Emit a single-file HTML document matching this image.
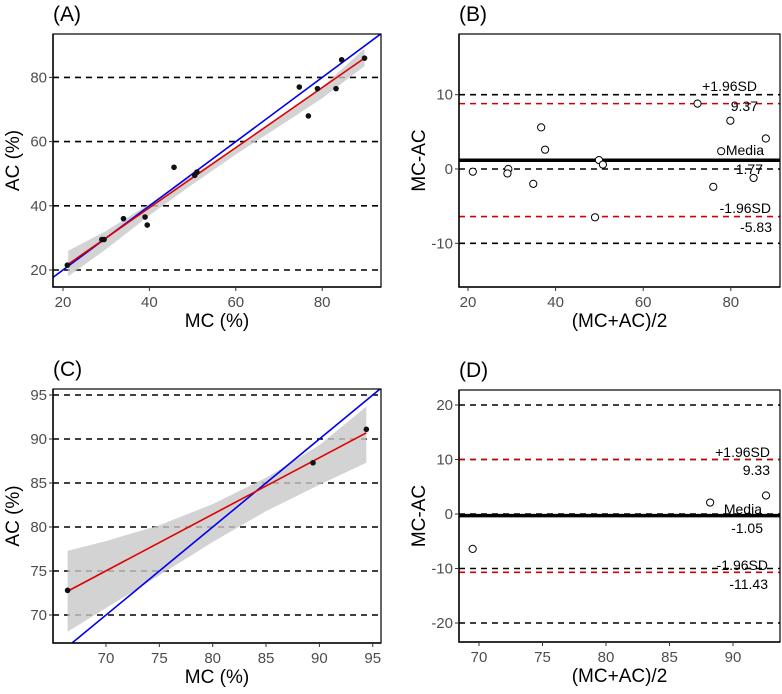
<!DOCTYPE html>
<html><head><meta charset="utf-8"><style>
html,body{margin:0;background:#fff;overflow:hidden;width:782px;height:694px;}
svg{display:block;font-family:"Liberation Sans",Arial,sans-serif;}
.tick{font-size:15px;fill:#4d4d4d;}
.ttl{font-size:19px;fill:#000;}
.pl{font-size:21px;fill:#000;}
.ann{font-size:14px;fill:#000;}
</style></head><body>
<svg id="c" width="782" height="694" viewBox="0 0 782 694"></svg>
<script>
// Panel A data
const aMC=[21,29,29.5,34,39,39.5,45.7,50.5,51,74.7,76.8,78.9,83.2,84.5,89.8];
const aAC=[21.5,29.5,29.5,36,36.5,34,52,49.5,50.5,77,68,76.5,76.5,85.5,86];
const aFit=[[21.2,21.8],[89.8,86]];
const aBandX=[21.2,30,40,50,60,70,80,89.8];
const aBandHi=[26,32.2,40.6,49.5,58.4,67.5,77,89];
const aBandLo=[18,26.5,37,46.7,56,64.7,73.5,83.5];
// Panel B data
const bMean=[21.1,29.2,29.0,34.9,36.7,37.6,49.0,49.9,50.8,72.4,76.0,77.8,79.9,85.2,88.0];
const bDiff=[-0.36,0,-0.6,-2.0,5.6,2.6,-6.5,1.2,0.6,8.8,-2.4,2.4,6.5,-1.2,4.1];
const bLimits=[8.8,1.17,-6.4];
const bLabels=["+1.96SD","9.37","Media","1.77","-1.96SD","-5.83"];
// Panel C data
const cMC=[66.4,89.4,94.4];
const cAC=[72.8,87.3,91.1];
const cFit=[[66.4,72.7],[94.4,90.7]];
const cBandX=[66.4,70,75,80,85,90,94.4];
const cBandHi=[77.3,78.4,80.2,82.6,85.6,89.3,93.7];
const cBandLo=[68.1,70.8,74.5,78.3,81.8,84.8,87.3];
// Panel D data
const dMean=[69.5,88.2,92.6];
const dDiff=[-6.4,2.1,3.4];
const dLimits=[10,-0.3,-10.7];
const dLabels=["+1.96SD","9.33","Media","-1.05","-1.96SD","-11.43"];

const svg=document.getElementById('c');
const NS='http://www.w3.org/2000/svg';
function mk(tag,attrs,parent,text){const e=document.createElementNS(NS,tag);for(const k in attrs)e.setAttribute(k,attrs[k]);if(text!==undefined)e.textContent=text;(parent||svg).appendChild(e);return e;}

function panel(o){
  const g=mk('g',{});
  
  
  const sx=v=>o.x0px+(v-o.x0)*o.xk, sy=v=>o.y0px-(v-o.y0)*o.yk;
  const L=o.box[0],T=o.box[1],R=o.box[2],B=o.box[3];
  const clipId='clip'+o.id;
  const cp=mk('clipPath',{id:clipId},g);mk('rect',{x:L,y:T,width:R-L,height:B-T},cp);
  const inner=mk('g',{'clip-path':'url(#'+clipId+')'},g);
  o.yticks.forEach(t=>{const l=mk('line',{x1:L,x2:R,y1:sy(t),y2:sy(t),stroke:'#000','stroke-width':1.6,'stroke-dasharray':'6,5'},inner);
    });
  if(o.band){let p='';o.bandX.forEach((x,i)=>p+=(i?'L':'M')+sx(x)+','+sy(o.bandHi[i]));
    for(let i=o.bandX.length-1;i>=0;i--)p+='L'+sx(o.bandX[i])+','+sy(o.bandLo[i]);
    const b=mk('path',{d:p+'Z',fill:'#c8c8c8','fill-opacity':0.8},inner);
    }
  if(o.fit){const fx=[o.x0-100,o.x0+200];
    const bl=mk('line',{x1:sx(fx[0]),y1:sy(fx[0]),x2:sx(fx[1]),y2:sy(fx[1]),stroke:'#0000ee','stroke-width':1.6},inner);
    
    const rl=mk('line',{x1:sx(o.fit[0][0]),y1:sy(o.fit[0][1]),x2:sx(o.fit[1][0]),y2:sy(o.fit[1][1]),stroke:'#e00000','stroke-width':1.6},inner);
    }
  if(o.limits){
    [0,2].forEach(i=>{const l=mk('line',{x1:L,x2:R,y1:sy(o.limits[i]),y2:sy(o.limits[i]),stroke:'#d00000','stroke-width':1.6,'stroke-dasharray':'6,5'},inner);
      });
    const m=mk('line',{x1:L,x2:R,y1:sy(o.limits[1]),y2:sy(o.limits[1]),stroke:'#000','stroke-width':3.5},inner);
    
  }
  o.px.forEach((x,i)=>{const c=o.open?mk('circle',{cx:sx(x),cy:sy(o.py[i]),r:3.6,fill:'#fff',stroke:'#000','stroke-width':1},g)
      :mk('circle',{cx:sx(x),cy:sy(o.py[i]),r:2.8,fill:'#111'},g);
    });
  if(o.labels){o.labels.forEach((s,i)=>{const t=mk('text',{x:o.labPos[i][0],y:o.labPos[i][1],'text-anchor':'end',class:'ann'},g,s);
    });}
  const ax=mk('path',{d:`M${L},${T}V${B}H${R}`,fill:'none',stroke:'#000','stroke-width':1.5},g);
  
  mk('rect',{x:L,y:T,width:R-L,height:B-T,fill:'none',stroke:'#000','stroke-width':1.2},g);
  o.xticks.forEach(t=>{mk('line',{x1:sx(t),x2:sx(t),y1:B,y2:B+4,stroke:'#333'},g);
    const tx=mk('text',{x:sx(t),y:B+20,'text-anchor':'middle',class:'tick'},g,String(t));
    });
  o.yticks.forEach(t=>{mk('line',{x1:L-4,x2:L,y1:sy(t),y2:sy(t),stroke:'#333'},g);
    const ty=mk('text',{x:L-6,y:sy(t)+5,'text-anchor':'end',class:'tick'},g,String(t));
    });
  const xt=mk('text',{x:(L+R)/2,y:B+40,'text-anchor':'middle',class:'ttl'},g,o.xt);
  
  const yc=(T+B)/2;
  const yt=mk('text',{x:o.ytx,y:yc,'text-anchor':'middle',class:'ttl',transform:`rotate(-90 ${o.ytx} ${yc})`},g,o.yt);
  
  const pl=mk('text',{x:L,y:T-13,class:'pl'},g,o.pl);
  
}

panel({id:'A',name:'panel-a',box:[53,34,381,287],x0:20,x0px:63,xk:4.32,y0:20,y0px:270,yk:3.21,
  xticks:[20,40,60,80],yticks:[20,40,60,80],px:aMC,py:aAC,fit:aFit,band:true,bandX:aBandX,bandHi:aBandHi,bandLo:aBandLo,
  xt:'MC (%)',yt:'AC (%)',ytx:19,pl:'(A)'});
panel({id:'B',name:'panel-b',box:[459,34,780,287],x0:20,x0px:468,xk:4.38,y0:0,y0px:169,yk:7.43,
  xticks:[20,40,60,80],yticks:[-10,0,10],px:bMean,py:bDiff,open:true,limits:bLimits,labels:bLabels,
  labPos:[[757,91],[758,111],[764,155],[763,174],[771,213],[772,232]],
  xt:'(MC+AC)/2',yt:'MC-AC',ytx:425,pl:'(B)'});
panel({id:'C',name:'panel-c',box:[53,389,381,643],x0:70,x0px:106,xk:10.67,y0:70,y0px:615,yk:8.8,
  xticks:[70,75,80,85,90,95],yticks:[70,75,80,85,90,95],px:cMC,py:cAC,fit:cFit,band:true,bandX:cBandX,bandHi:cBandHi,bandLo:cBandLo,
  xt:'MC (%)',yt:'AC (%)',ytx:19,pl:'(C)'});
panel({id:'D',name:'panel-d',box:[459,390,780,642],x0:70,x0px:479,xk:12.7,y0:0,y0px:514,yk:5.45,
  xticks:[70,75,80,85,90],yticks:[-20,-10,0,10,20],px:dMean,py:dDiff,open:true,limits:dLimits,labels:dLabels,
  labPos:[[770,457],[770,475],[762,514],[763,533],[768,570],[768,589]],
  xt:'(MC+AC)/2',yt:'MC-AC',ytx:425,pl:'(D)'});
</script>
</body></html>
